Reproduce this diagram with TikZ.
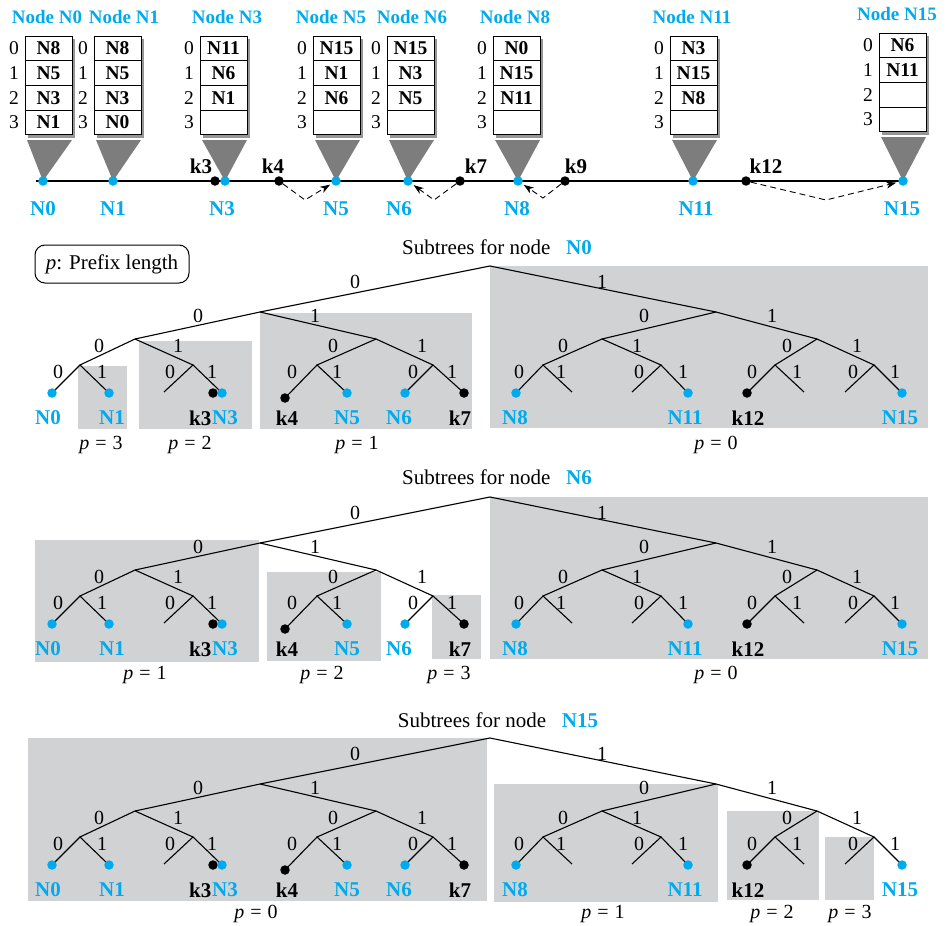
\documentclass[tikz,border=0pt]{standalone}
\usepackage{fontspec}
\setmainfont{Liberation Serif}
\usetikzlibrary{arrows.meta}
\definecolor{nblue}{RGB}{0,170,236}
\definecolor{boxgray}{RGB}{209,210,212}
\definecolor{trigray}{RGB}{125,125,125}
\definecolor{shadowgray}{RGB}{150,150,150}
\tikzset{
 treeedge/.style={line width=1.1pt},
 bitlbl/.style={font=\fontsize{20}{22}\selectfont, inner sep=0pt},
 leafn/.style={font=\bfseries\fontsize{21}{23}\selectfont, text=nblue, inner sep=0pt},
 leafk/.style={font=\bfseries\fontsize{21}{23}\selectfont, text=black, inner sep=0pt},
 ndot/.style={circle, fill=nblue, inner sep=0pt, minimum size=9.5pt},
 kdot/.style={circle, fill=black, inner sep=0pt, minimum size=9.5pt},
 subbox/.style={fill=boxgray},
 plbl/.style={font=\fontsize{20}{22}\selectfont, inner sep=0pt},
 cell/.style={draw, fill=white, line width=1pt, minimum width=47pt, minimum height=24.7pt, inner sep=0pt, font=\bfseries\fontsize{19.5}{21}\selectfont},
 idx/.style={font=\fontsize{19.5}{21}\selectfont, inner sep=0pt},
 ttl/.style={font=\bfseries\fontsize{19}{21}\selectfont, text=nblue, inner sep=0pt},
 subttl/.style={font=\fontsize{21}{23}\selectfont, inner sep=0pt},
 darr/.style={dash pattern=on 6pt off 4pt, line width=0.9pt, -{Stealth[length=10pt,width=7pt,inset=3pt]}, shorten >=2pt},
}
\newcommand{\peq}[1]{\textit{p}\hspace{0.3em}=\hspace{0.3em}#1}
\newcommand{\bintree}[1]{%
 \coordinate (#1R) at (490,266);
 \coordinate (#1A0) at (260,312); \coordinate (#1A1) at (716,312);
 \coordinate (#1B00) at (135,339); \coordinate (#1B01) at (376,339);
 \coordinate (#1B10) at (602,339); \coordinate (#1B11) at (817,339);
 \coordinate (#1C000) at (80,365); \coordinate (#1C001) at (193,365);
 \coordinate (#1C010) at (317,365); \coordinate (#1C011) at (433,365);
 \coordinate (#1C100) at (543,365); \coordinate (#1C101) at (661,365);
 \coordinate (#1C110) at (775,365); \coordinate (#1C111) at (874,365);
 \foreach \nm/\x/\y in {L0/52/393, L1/109/393, L2/164/392, L3/220/391, L4/285/398, L5/347/393, L6/405/393, L7/464/393, L8/516/393, L9/572/392, L10/632/392, L11/688/393, L12/747/393, L13/804/392, L14/845/392, L15/902/393} {\coordinate (#1\nm) at (\x,\y);}
 \draw[treeedge] (#1A0) -- (#1R) -- (#1A1);
 \draw[treeedge] (#1B00) -- (#1A0) -- (#1B01);
 \draw[treeedge] (#1B10) -- (#1A1) -- (#1B11);
 \draw[treeedge] (#1C000) -- (#1B00) -- (#1C001);
 \draw[treeedge] (#1C010) -- (#1B01) -- (#1C011);
 \draw[treeedge] (#1C100) -- (#1B10) -- (#1C101);
 \draw[treeedge] (#1C110) -- (#1B11) -- (#1C111);
 \draw[treeedge] (#1L0) -- (#1C000) -- (#1L1);
 \draw[treeedge] (#1L2) -- (#1C001) -- (#1L3);
 \draw[treeedge] (#1L4) -- (#1C010) -- (#1L5);
 \draw[treeedge] (#1L6) -- (#1C011) -- (#1L7);
 \draw[treeedge] (#1L8) -- (#1C100) -- (#1L9);
 \draw[treeedge] (#1L10) -- (#1C101) -- (#1L11);
 \draw[treeedge] (#1L12) -- (#1C110) -- (#1L13);
 \draw[treeedge] (#1L14) -- (#1C111) -- (#1L15);
 \node[ndot] (#1dN0) at (#1L0) {};
 \node[ndot] (#1dN1) at (#1L1) {};
 \node[kdot] (#1dk3) at (213,393) {};
 \node[ndot] (#1dN3) at (222,393) {};
 \node[kdot] (#1dk4) at (#1L4) {};
 \node[ndot] (#1dN5) at (#1L5) {};
 \node[ndot] (#1dN6) at (#1L6) {};
 \node[kdot] (#1dk7) at (#1L7) {};
 \node[ndot] (#1dN8) at (#1L8) {};
 \node[ndot] (#1dN11) at (#1L11) {};
 \node[kdot] (#1dk12) at (#1L12) {};
 \node[ndot] (#1dN15) at (#1L15) {};
 \node[leafn] (#1lN0) at (48,418) {N0};
 \node[leafn] (#1lN1) at (112,418) {N1};
 \node[leafk, anchor=east] (#1lk3) at (211.5,418) {k3};
 \node[leafn, anchor=west] (#1lN3) at (212,418) {N3};
 \node[leafk] (#1lk4) at (287,418) {k4};
 \node[leafn] (#1lN5) at (347,418) {N5};
 \node[leafn] (#1lN6) at (399,418) {N6};
 \node[leafk] (#1lk7) at (460,418) {k7};
 \node[leafn] (#1lN8) at (515,418) {N8};
 \node[leafn] (#1lN11) at (685,418) {N11};
 \node[leafk] (#1lk12) at (748,418) {k12};
 \node[leafn] (#1lN15) at (900,418) {N15};
 \foreach \x/\y/\t [count=\i] in {355/282/0, 602/282/1, 198/316/0, 315/316/1, 644/316/0, 772/316/1, 99/346/0, 178/346/1, 333/346/0, 422/346/1, 563/346/0, 637/346/1, 787/346/0, 857/346/1, 58/372/0, 102/372/1, 170/372/0, 212/372/1, 292/372/0, 337/372/1, 413/372/0, 452/372/1, 519/372/0, 561/372/1, 639/372/0, 683/372/1, 752/372/0, 797/372/1, 853/372/0, 895/372/1} {\node[bitlbl] (#1b\i) at (\x,\y) {\t};}
}
\begin{document}
\begin{tikzpicture}[x=1pt,y=-1pt]
\useasboundingbox (0,0) rectangle (948,926);
% ---------- ring coordinates ----------
\foreach \nm/\x in {N0/43, N1/113, k3/215, N3/225, k4/279, N5/336, N6/408, k7/460, N8/518, k9/565, N11/693, k12/746, N15/903} {\coordinate (r\nm) at (\x,181);}
% ---------- finger tables ----------
\foreach \nm/\lx/\ty/\ea/\eb/\ec/\ed/\tx in {N0/25/36/N8/N5/N3/N1/47, N1/94/36/N8/N5/N3/N0/124, N3/200/36/N11/N6/N1/{}/227, N5/313/36/N15/N1/N6/{}/331, N6/387/36/N15/N3/N5/{}/412, N8/493/36/N0/N15/N11/{}/515, N11/670/36/N3/N15/N8/{}/692, N15/879/33/N6/N11/{}/{}/897} {
 \fill[shadowgray] (\lx+3,\ty+3) rectangle (\lx+50,\ty+101.8);
 \node[cell] (tab\nm-0) at (\lx+23.5,\ty+12.35) {\ea};
 \node[cell] (tab\nm-1) at (\lx+23.5,\ty+37.05) {\eb};
 \node[cell] (tab\nm-2) at (\lx+23.5,\ty+61.75) {\ec};
 \node[cell] (tab\nm-3) at (\lx+23.5,\ty+86.45) {\ed};
 \node[idx] (idx\nm-0) at (\lx-11,\ty+12.35) {0};
 \node[idx] (idx\nm-1) at (\lx-11,\ty+37.05) {1};
 \node[idx] (idx\nm-2) at (\lx-11,\ty+61.75) {2};
 \node[idx] (idx\nm-3) at (\lx-11,\ty+86.45) {3};
 \node[ttl] (ttl\nm) at (\tx,\ty-19) {Node \nm};
 \fill[trigray] (\lx+2,\ty+104) -- (\lx+47,\ty+104) -- (r\nm) -- cycle;
}
% ---------- ring ----------
\coordinate (ringstart) at (36,181);
\draw[line width=2pt] (ringstart) -- (rN15);
\foreach \nm in {N0, N1, N3, N5, N6, N8, N11, N15} {\node[ndot] (d\nm) at (r\nm) {};}
\foreach \nm in {k3, k4, k7, k9, k12} {\node[kdot] (d\nm) at (r\nm) {};}
\foreach \nm/\x in {N0/43, N1/113, N3/222, N5/336, N6/399, N8/517, N11/696, N15/902} {\node[leafn] (rl\nm) at (\x,209) {\nm};}
\foreach \nm/\x in {k3/201, k4/273, k7/476, k9/576, k12/766} {\node[leafk] (rl\nm) at (\x,166) {\nm};}
\coordinate (b4) at (305,200);
\coordinate (b7) at (434,200);
\coordinate (b9) at (543,198);
\coordinate (b12) at (826,200);
\draw[darr] (dk4) -- (b4) -- (dN5);
\draw[darr] (dk7) -- (b7) -- (dN6);
\draw[darr] (dk9) -- (b9) -- (dN8);
\draw[darr] (dk12) -- (b12) -- (dN15);
% ---------- legend ----------
\node[draw, rounded corners=10pt, line width=1pt, minimum width=154pt, minimum height=38pt, inner sep=0pt, font=\fontsize{21}{23}\selectfont] (legend) at (112,264) {\textit{p}: Prefix length};
% ---------- tree 1 ----------
\node[subttl] (title1) at (497,247) {Subtrees for node\hspace{0.75em}{\bfseries\color{nblue}N0}};
\fill[subbox] (78,366) rectangle (127,429);
\fill[subbox] (139,341) rectangle (252,429);
\fill[subbox] (260,313) rectangle (472,429);
\fill[subbox] (490,266) rectangle (928,428);
\node[plbl] (t1p3) at (101,445) {\peq{3}};
\node[plbl] (t1p2) at (190,445) {\peq{2}};
\node[plbl] (t1p1) at (357,445) {\peq{1}};
\node[plbl] (t1p0) at (716,445) {\peq{0}};
\bintree{ta}
% ---------- tree 2 ----------
\node[subttl] (title2) at (497,477) {Subtrees for node\hspace{0.75em}{\bfseries\color{nblue}N6}};
\begin{scope}[yshift=-231pt]
\fill[subbox] (35,309) rectangle (259,431);
\fill[subbox] (267,341) rectangle (381,430);
\fill[subbox] (432,364) rectangle (481,428);
\fill[subbox] (490,266) rectangle (928,428);
\node[plbl] (t2p1) at (145,444) {\peq{1}};
\node[plbl] (t2p2) at (322,444) {\peq{2}};
\node[plbl] (t2p3) at (449,444) {\peq{3}};
\node[plbl] (t2p0) at (716,444) {\peq{0}};
\bintree{tb}
\end{scope}
% ---------- tree 3 ----------
\node[subttl] (title3) at (498,720) {Subtrees for node\hspace{0.75em}{\bfseries\color{nblue}N15}};
\begin{scope}[yshift=-472pt]
\fill[subbox] (28,266) rectangle (487,429);
\fill[subbox] (494,312) rectangle (718,430);
\fill[subbox] (727,339) rectangle (819,428);
\fill[subbox] (825,365) rectangle (874,428);
\node[plbl] (t3p0) at (256,442) {\peq{0}};
\node[plbl] (t3p1) at (603,442) {\peq{1}};
\node[plbl] (t3p2) at (772,442) {\peq{2}};
\node[plbl] (t3p3) at (850,442) {\peq{3}};
\bintree{tc}
\end{scope}
\end{tikzpicture}
\end{document}
